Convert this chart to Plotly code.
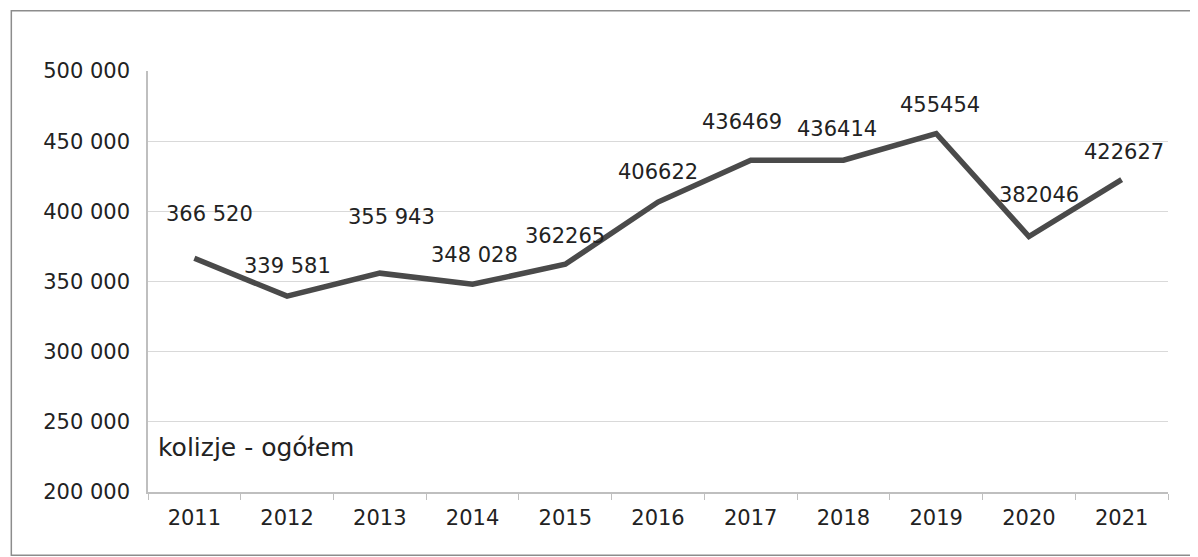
import plotly.graph_objects as go

# data
years = ["2011", "2012", "2013", "2014", "2015", "2016",
         "2017", "2018", "2019", "2020", "2021"]
collisions = [366520, 339581, 355943, 348028, 362265, 406622,
              436469, 436414, 455454, 382046, 422627]
value_labels = ["366 520", "339 581", "355 943", "348 028", "362265", "406622",
                "436469", "436414", "455454", "382046", "422627"]
series_name = "kolizje - ogółem"

# label nudges in pixels (x, y), the way Excel placed them
label_shift = [(15, 44), (0, 30), (12, 56), (2, 29), (0, 28), (0, 30),
               (-9, 38), (-6, 31), (4, 29), (10, 42), (2, 28)]

FONT = "DejaVu Sans"
TXT = "#222222"
SIZE = 21

fig = go.Figure()
fig.add_trace(go.Scatter(
    x=years, y=collisions, mode="lines",
    line=dict(color="#4a4a4a", width=5.5),
    hoverinfo="x+y", showlegend=False,
))

# category axis: annotations are placed by category index
for i, (val, lab, (dx, dy)) in enumerate(zip(collisions, value_labels, label_shift)):
    fig.add_annotation(x=i, y=val, text=lab, showarrow=False,
                       xshift=dx, yshift=dy,
                       font=dict(family=FONT, size=SIZE, color=TXT))

fig.add_annotation(xref="paper", yref="paper", x=0.008, y=0.105,
                   xanchor="left", yanchor="middle", text=series_name,
                   showarrow=False, font=dict(family=FONT, size=25, color=TXT))

# outer chart frame
fig.add_shape(type="rect", xref="paper", yref="paper",
              x0=-0.134, x1=1.027, y0=-0.15, y1=1.143,
              line=dict(color="#8c8c8c", width=1.5), layer="below")

# page body adds an 8px margin, so the figure is 8px smaller each way
fig.update_layout(
    width=1190, height=549,
    margin=dict(l=140, r=30, t=63, b=65, autoexpand=False),
    paper_bgcolor="white", plot_bgcolor="white",
    separators=", ",
    font=dict(family=FONT, size=SIZE, color=TXT),
)
fig.update_xaxes(
    type="category", tickson="boundaries", range=[-0.5, len(years) - 0.5],
    ticks="outside", ticklen=6, tickcolor="#bfbfbf", tickangle=0,
    ticklabelstandoff=6,
    showgrid=False, showline=True, linecolor="#bfbfbf", linewidth=1.5,
    tickfont=dict(family=FONT, size=SIZE, color=TXT),
)
fig.update_yaxes(
    range=[200000, 500000], dtick=50000, tickformat=",d",
    showgrid=True, gridcolor="#d9d9d9", gridwidth=1.3,
    showline=True, linecolor="#bfbfbf", linewidth=1.5,
    ticks="", ticklabelstandoff=12, zeroline=False,
    tickfont=dict(family=FONT, size=SIZE, color=TXT),
)

fig.write_html("out.html")
